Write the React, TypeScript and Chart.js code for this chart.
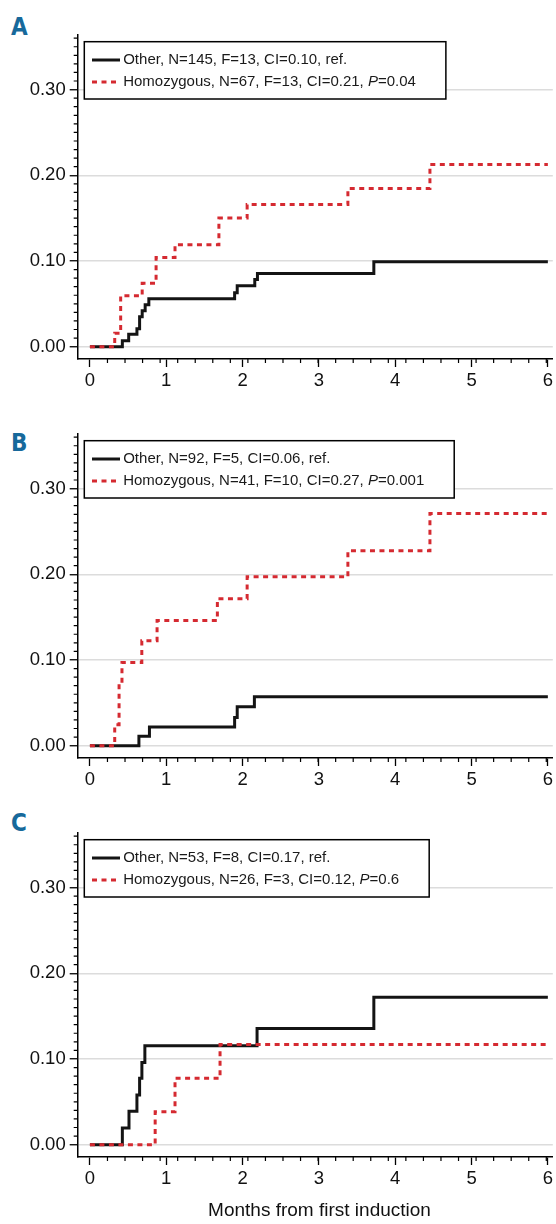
import React, { useEffect, useRef } from 'react';
import { Chart, registerables } from 'chart.js';
Chart.register(...registerables);

// ---------- data ----------
const xTickValues = [0, 1, 2, 3, 4, 5, 6];
const xTickLabels = ['0', '1', '2', '3', '4', '5', '6'];
const yTickValues = [0, 0.1, 0.2, 0.3];
const yTickLabels = ['0.00', '0.10', '0.20', '0.30'];
const xAxisTitle = 'Months from first induction';
const panelLetters = ['A', 'B', 'C'];

// Panel A
const aOtherT = [0, 0.425, 0.508, 0.616, 0.651, 0.685, 0.724, 0.772, 1.896, 1.93, 2.16, 2.195, 3.72, 6];
const aOtherV = [0, 0.007, 0.0145, 0.021, 0.035, 0.042, 0.049, 0.056, 0.063, 0.071, 0.0785, 0.0855, 0.099, 0.099];
const aHomoT = [0, 0.325, 0.403, 0.685, 0.867, 1.115, 1.69, 2.06, 3.38, 4.455, 6];
const aHomoV = [0, 0.0156, 0.0595, 0.074, 0.104, 0.119, 0.15, 0.166, 0.1846, 0.2125, 0.2125];
const aLabels = ['Other, N=145, F=13, CI=0.10, ref.', 'Homozygous, N=67, F=13, CI=0.21, P=0.04'];

// Panel B
const bOtherT = [0, 0.642, 0.78, 1.896, 1.93, 2.155, 6];
const bOtherV = [0, 0.0109, 0.0218, 0.033, 0.0455, 0.057, 0.057];
const bHomoT = [0, 0.325, 0.382, 0.42, 0.68, 0.88, 1.67, 2.06, 3.38, 4.455, 6];
const bHomoV = [0, 0.0245, 0.073, 0.097, 0.1225, 0.146, 0.1715, 0.197, 0.2275, 0.271, 0.271];
const bLabels = ['Other, N=92, F=5, CI=0.06, ref.', 'Homozygous, N=41, F=10, CI=0.27, P=0.001'];

// Panel C
const cOtherT = [0, 0.425, 0.512, 0.616, 0.651, 0.681, 0.72, 2.19, 3.72, 6];
const cOtherV = [0, 0.0194, 0.0389, 0.058, 0.0775, 0.096, 0.1155, 0.1357, 0.172, 0.172];
const cHomoT = [0, 0.855, 1.115, 1.705, 6];
const cHomoV = [0, 0.0385, 0.0774, 0.117, 0.117];
const cLabels = ['Other, N=53, F=8, CI=0.17, ref.', 'Homozygous, N=26, F=3, CI=0.12, P=0.6'];

// ---------- styles ----------
const BLACK = '#141414';
const RED = '#d52a31';
const FONT = "'Liberation Sans', Arial, sans-serif";
const CANVAS_W = 556;
const CANVAS_H = 400;

const minorTicksPlugin = {
  id: 'minorTicks',
  afterDraw(chart: any) {
    const { ctx, chartArea, scales } = chart;
    const x = scales.x;
    const y = scales.y;
    ctx.save();
    ctx.strokeStyle = '#000';
    ctx.lineWidth = 1.2;
    ctx.beginPath();
    for (let i = 1; i <= 36; i++) {
      if (i % 10 === 0) continue;
      const py = y.getPixelForValue(i / 100);
      ctx.moveTo(chartArea.left - 4, py);
      ctx.lineTo(chartArea.left, py);
    }
    const week = 7 / 30.4375;
    for (let k = 1; k <= 26; k++) {
      const px = x.getPixelForValue(k * week);
      ctx.moveTo(px, chartArea.bottom);
      ctx.lineTo(px, chartArea.bottom + 4);
    }
    ctx.stroke();
    ctx.restore();
  },
};

const legendBoxPlugin = {
  id: 'legendBox',
  afterDraw(chart: any) {
    const { ctx, chartArea } = chart;
    const ds = chart.data.datasets;
    const left = chartArea.left + 6.6;
    const top = chartArea.top + 6.7;
    const textX = chartArea.left + 45.5;
    const normal = `15px ${FONT}`;
    const italic = `italic 15px ${FONT}`;
    ctx.save();
    // measure
    const measure = (label: string) => {
      const idx = label.indexOf('P=');
      if (idx < 0) { ctx.font = normal; return ctx.measureText(label).width; }
      ctx.font = normal;
      let w = ctx.measureText(label.slice(0, idx)).width;
      ctx.font = italic;
      w += ctx.measureText('P').width;
      ctx.font = normal;
      w += ctx.measureText(label.slice(idx + 1)).width;
      return w;
    };
    const maxW = Math.max(...ds.map((d: any) => measure(d.label)));
    const width = textX - left + maxW + 30;
    const height = 57.3;
    ctx.fillStyle = '#fff';
    ctx.fillRect(left, top, width, height);
    ctx.strokeStyle = '#000';
    ctx.lineWidth = 1.5;
    ctx.strokeRect(left, top, width, height);
    const rows = [top + 18.3, top + 40.3];
    ds.forEach((d: any, i: number) => {
      const cy = rows[i];
      ctx.beginPath();
      ctx.strokeStyle = d.borderColor;
      ctx.lineWidth = 3;
      ctx.setLineDash(d.borderDash || []);
      ctx.moveTo(chartArea.left + 14.3, cy);
      ctx.lineTo(chartArea.left + 42.3, cy);
      ctx.stroke();
      ctx.setLineDash([]);
      ctx.fillStyle = '#1a1a1a';
      ctx.textBaseline = 'middle';
      ctx.textAlign = 'left';
      const label: string = d.label;
      const idx = label.indexOf('P=');
      let x = textX;
      if (idx < 0) {
        ctx.font = normal;
        ctx.fillText(label, x, cy);
      } else {
        ctx.font = normal;
        const pre = label.slice(0, idx);
        ctx.fillText(pre, x, cy);
        x += ctx.measureText(pre).width;
        ctx.font = italic;
        ctx.fillText('P', x, cy);
        x += ctx.measureText('P').width;
        ctx.font = normal;
        ctx.fillText(label.slice(idx + 1), x, cy);
      }
    });
    ctx.restore();
  },
};

type PanelProps = {
  top: number;
  otherT: number[];
  otherV: number[];
  homoT: number[];
  homoV: number[];
  labels: string[];
};

function Panel({ top, otherT, otherV, homoT, homoV, labels }: PanelProps) {
  const ref = useRef<HTMLCanvasElement>(null);
  useEffect(() => {
    const tickFont = { family: FONT, size: 18.5 };
    const chart = new Chart(ref.current as HTMLCanvasElement, {
      type: 'line',
      data: {
        datasets: [
          {
            label: labels[0],
            data: otherT.map((t, i) => ({ x: t, y: otherV[i] })),
            borderColor: BLACK,
            borderWidth: 3,
            stepped: true,
            pointRadius: 0,
            fill: false,
            order: 1,
          },
          {
            label: labels[1],
            data: homoT.map((t, i) => ({ x: t, y: homoV[i] })),
            borderColor: RED,
            borderWidth: 3,
            borderDash: [5, 4.5],
            stepped: true,
            pointRadius: 0,
            fill: false,
            order: 0,
          },
        ],
      },
      options: {
        responsive: false,
        animation: false,
        devicePixelRatio: 1,
        layout: { padding: { top: 35, right: 0, left: 0, bottom: 0 } },
        plugins: { legend: { display: false }, tooltip: { enabled: false } },
        scales: {
          x: {
            type: 'linear',
            min: -0.16,
            max: 6.065,
            afterBuildTicks: (s: any) => { s.ticks = xTickValues.map((v) => ({ value: v })); },
            afterFit: (s: any) => { s.height = 41; },
            ticks: {
              callback: (_v: any, i: number) => xTickLabels[i],
              font: tickFont,
              color: '#111',
              padding: 3,
              maxRotation: 0,
              minRotation: 0,
              autoSkip: false,
            },
            grid: { drawOnChartArea: false, color: '#000', tickColor: '#000', tickLength: 8, tickWidth: 1.3 },
            border: { display: true, color: '#000', width: 1.5 },
          },
          y: {
            type: 'linear',
            min: -0.0144,
            max: 0.3637,
            afterBuildTicks: (s: any) => { s.ticks = yTickValues.map((v) => ({ value: v })); },
            afterFit: (s: any) => { s.width = 77.7; },
            ticks: {
              callback: (_v: any, i: number) => yTickLabels[i],
              font: tickFont,
              color: '#111',
              padding: 4,
              autoSkip: false,
            },
            grid: { color: '#dcdcdc', lineWidth: 1.5, tickColor: '#000', tickLength: 8, tickWidth: 1.3 },
            border: { display: true, color: '#000', width: 1.5 },
          },
        },
      },
      plugins: [minorTicksPlugin, legendBoxPlugin],
    } as any);
    return () => chart.destroy();
  }, []);
  return (
    <canvas
      ref={ref}
      width={CANVAS_W}
      height={CANVAS_H}
      style={{ position: 'absolute', left: 0, top, width: CANVAS_W, height: CANVAS_H, display: 'block' }}
    />
  );
}

const letterStyle = (top: number): React.CSSProperties => ({
  position: 'absolute',
  left: 11,
  top,
  fontFamily: "'DejaVu Sans Condensed', 'DejaVu Sans', sans-serif",
  fontStretch: 'condensed',
  fontWeight: 'bold',
  fontSize: 24,
  lineHeight: '24px',
  color: '#17699b',
});

export default function App() {
  return (
    <div style={{ position: 'absolute', left: 0, top: 0, width: 556, height: 1224, background: '#fff', overflow: 'hidden' }}>
      <div style={letterStyle(14.9)}>{panelLetters[0]}</div>
      <div style={letterStyle(430.9)}>{panelLetters[1]}</div>
      <div style={letterStyle(811.4)}>{panelLetters[2]}</div>
      <Panel top={0} otherT={aOtherT} otherV={aOtherV} homoT={aHomoT} homoV={aHomoV} labels={aLabels} />
      <Panel top={399} otherT={bOtherT} otherV={bOtherV} homoT={bHomoT} homoV={bHomoV} labels={bLabels} />
      <Panel top={798} otherT={cOtherT} otherV={cOtherV} homoT={cHomoT} homoV={cHomoV} labels={cLabels} />
      <div
        style={{
          position: 'absolute',
          left: 319.5,
          top: 1199.5,
          transform: 'translateX(-50%)',
          whiteSpace: 'nowrap',
          fontFamily: FONT,
          fontSize: 19,
          lineHeight: '19px',
          color: '#111',
        }}
      >
        {xAxisTitle}
      </div>
    </div>
  );
}
